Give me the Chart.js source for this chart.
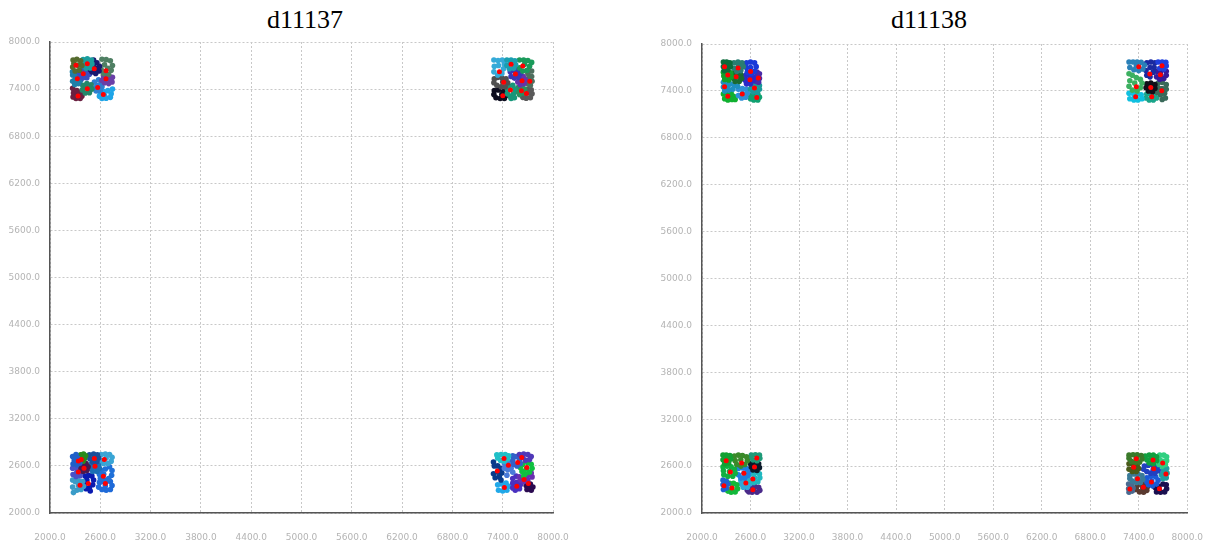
<!DOCTYPE html>
<html>
<head>
<meta charset="utf-8">
<script src="https://cdn.jsdelivr.net/npm/chart.js@4/dist/chart.umd.min.js"></script>
<style>
  html, body { margin: 0; padding: 0; background: #fff; }
  body { width: 1222px; height: 545px; position: relative; overflow: hidden; }
  .title { position: absolute; top: 4px; font-family: "Liberation Serif", "Times New Roman", serif;
           font-size: 26px; line-height: 32px; color: #000; transform: translateX(-50%); white-space: nowrap; }
  canvas { position: absolute; top: 0; }
</style>
</head>
<body>
<div class="title" id="title0" style="left:305px"></div>
<div class="title" id="title1" style="left:929px"></div>
<canvas id="chart0" width="611" height="545" style="left:0"></canvas>
<canvas id="chart1" width="586" height="545" style="left:636px"></canvas>
<script>
// ---- axis ticks and titles ----
const axisTicks = [2000, 2600, 3200, 3800, 4400, 5000, 5600, 6200, 6800, 7400, 8000];
const chartTitles = ['d11137', 'd11138'];

// ---- d11137: cluster centres, colours and member points (flat x,y lists) ----
const d37TLCenters = [[2310,7703],[2445,7724],[2528,7660],[2668,7635],[2397,7597],[2326,7533],[2668,7533],[2445,7405],[2569,7421],[2636,7332],[2334,7311]];
const d37TLColors = ['#556b2f','#1a9e9e','#191970','#4f7f63','#3a4fc0','#1f7fa8','#6a40a8','#23876a','#2f7fd0','#1fa5e8','#6a2040'];
const d37TLPoints = [
  [2275,7770,2320,7780,2365,7760,2380,7700,2350,7640,2300,7630,2270,7680,2285,7725,2335,7705],
  [2395,7775,2445,7785,2495,7770,2500,7720,2480,7670,2430,7665,2395,7700,2420,7745,2465,7735],
  [2520,7770,2560,7735,2590,7690,2585,7630,2545,7600,2500,7620,2480,7650,2515,7700,2550,7665],
  [2620,7780,2670,7775,2720,7760,2745,7700,2730,7640,2700,7590,2640,7600,2610,7650,2650,7710,2690,7665],
  [2350,7610,2400,7650,2450,7640,2470,7590,2440,7545,2390,7540,2360,7570,2410,7600],
  [2270,7580,2310,7575,2345,7560,2365,7510,2340,7470,2295,7460,2270,7500,2300,7530,2320,7495,2268,7620],
  [2640,7560,2700,7570,2745,7550,2740,7490,2700,7470,2650,7480,2620,7510,2670,7530,2720,7525],
  [2390,7450,2440,7470,2490,7455,2500,7400,2470,7355,2420,7350,2385,7390,2430,7420,2460,7410],
  [2530,7490,2580,7520,2610,7480,2620,7430,2600,7380,2550,7375,2520,7410,2560,7450,2590,7410],
  [2600,7350,2640,7370,2690,7380,2730,7340,2720,7295,2670,7285,2620,7280,2590,7310,2650,7320,2745,7400],
  [2280,7350,2320,7380,2365,7360,2380,7310,2360,7280,2310,7280,2275,7300,2330,7330,2270,7410]
];

const d37TRCenters = [[7500,7716],[7639,7694],[7361,7622],[7552,7592],[7631,7507],[7723,7499],[7412,7486],[7492,7388],[7623,7379],[7683,7345],[7401,7316]];
const d37TRColors = ['#1a9fb0','#1a9a5a','#35aad8','#3838b8','#6633aa','#4f6f5f','#505050','#17977a','#2a9060','#5a5a5a','#0d0d1f'];
const d37TRPoints = [
  [7450,7770,7500,7770,7545,7760,7555,7710,7530,7665,7480,7660,7450,7700,7490,7735],
  [7600,7770,7650,7770,7700,7765,7745,7740,7720,7690,7690,7640,7640,7630,7600,7670,7660,7715],
  [7295,7770,7345,7765,7395,7770,7420,7720,7410,7660,7390,7600,7340,7580,7295,7620,7300,7690,7350,7700],
  [7490,7620,7530,7640,7580,7650,7610,7600,7590,7550,7540,7540,7500,7560,7555,7600],
  [7600,7545,7645,7560,7670,7520,7655,7470,7610,7455,7580,7490,7620,7500],
  [7700,7600,7745,7630,7745,7560,7750,7500,7730,7450,7700,7470,7710,7540,7690,7510],
  [7300,7530,7340,7550,7390,7540,7440,7530,7460,7480,7430,7430,7380,7430,7330,7450,7295,7480,7400,7490],
  [7470,7440,7520,7450,7545,7400,7530,7340,7490,7310,7455,7340,7460,7390,7500,7280,7540,7290],
  [7585,7420,7630,7430,7660,7400,7645,7350,7600,7330,7575,7370,7615,7390],
  [7700,7400,7740,7390,7750,7340,7730,7290,7680,7285,7640,7295,7660,7330,7710,7350],
  [7300,7380,7350,7390,7410,7370,7440,7320,7420,7280,7370,7280,7320,7290,7295,7330,7390,7330]
];

const d37BLCenters = [[2338,2664],[2374,2682],[2529,2694],[2648,2682],[2406,2571],[2537,2596],[2338,2523],[2636,2469],[2358,2354],[2457,2375],[2660,2375]];
const d37BLColors = ['#1f5fc8','#2a8a1a','#1b4f9a','#3aa5d5','#4a1a50','#1a6fb5','#4a50c8','#2070d8','#3a9cc8','#0a1ab0','#1f6ad8'];
const d37BLPoints = [
  [2270,2720,2310,2745,2290,2670,2275,2625,2320,2615,2355,2635,2330,2700],
  [2365,2740,2400,2750,2425,2730,2410,2690,2380,2705,2395,2660],
  [2470,2740,2520,2750,2565,2740,2580,2700,2560,2655,2510,2650,2475,2690,2530,2710],
  [2610,2745,2660,2750,2710,2745,2740,2710,2730,2660,2690,2630,2640,2630,2610,2670,2670,2700],
  [2380,2620,2430,2630,2455,2590,2440,2540,2395,2530,2370,2565,2410,2580],
  [2490,2620,2540,2640,2585,2620,2590,2570,2560,2530,2510,2530,2485,2570,2540,2590],
  [2270,2570,2310,2580,2350,2570,2375,2520,2360,2475,2310,2465,2275,2490,2320,2520],
  [2610,2540,2660,2560,2710,2590,2740,2540,2735,2480,2700,2440,2650,2420,2600,2440,2590,2490,2640,2495],
  [2270,2420,2300,2400,2340,2410,2390,2400,2400,2340,2370,2300,2320,2290,2280,2260,2270,2330,2340,2350],
  [2420,2470,2460,2480,2500,2470,2520,2420,2510,2360,2470,2320,2430,2310,2410,2370,2440,2420,2480,2280],
  [2590,2390,2620,2400,2670,2400,2720,2400,2740,2350,2720,2300,2670,2290,2620,2300,2580,2330,2660,2345]
];

const d37BRCenters = [[7416,2694],[7627,2707],[7579,2643],[7468,2609],[7687,2580],[7336,2536],[7655,2426],[7706,2375],[7568,2341],[7420,2324]];
const d37BRColors = ['#20c0c8','#5038b8','#3060c8','#4a7ad8','#10c040','#0a3a8a','#6a30b0','#2a0a50','#4a30c0','#20a8e8'];
const d37BRPoints = [
  [7330,2740,7380,2745,7430,2745,7470,2730,7460,2690,7420,2660,7375,2670,7340,2700],
  [7600,2745,7650,2750,7700,2745,7740,2720,7720,2680,7670,2670,7640,2710],
  [7520,2730,7560,2720,7600,2680,7610,2630,7570,2600,7530,2620,7520,2670],
  [7420,2630,7470,2650,7500,2620,7500,2570,7460,2550,7420,2570,7470,2600,7520,2520,7450,2480],
  [7640,2620,7700,2640,7740,2620,7750,2570,7720,2520,7670,2500,7630,2530,7610,2580,7680,2560,7650,2470],
  [7290,2650,7300,2600,7340,2600,7380,2570,7390,2510,7360,2460,7310,2450,7290,2500,7340,2520,7380,2420],
  [7600,2460,7700,2480,7750,2460,7740,2510,7700,2420,7650,2400,7610,2420,7660,2440],
  [7680,2350,7730,2370,7760,2330,7740,2290,7690,2300,7710,2340],
  [7520,2380,7570,2390,7610,2360,7600,2310,7550,2290,7520,2320,7570,2340,7520,2440,7560,2470],
  [7340,2360,7390,2370,7440,2380,7470,2340,7450,2290,7400,2280,7350,2290,7420,2320]
];

// ---- d11138 ----
const d38TLCenters = [[2279,7709],[2446,7692],[2601,7649],[2319,7602],[2422,7581],[2593,7543],[2697,7564],[2279,7453],[2649,7436],[2498,7359],[2319,7330],[2677,7317]];
const d38TLColors = ['#0b6b3b','#2a7d72','#1a3ad8','#12a02a','#1a6a30','#2a2ac8','#4a2aa8','#1f8fc0','#1a9a9a','#2f90d8','#10b030','#10a070'];
const d38TLPoints = [
  [2265,7770,2305,7770,2345,7760,2350,7710,2320,7670,2275,7660,2300,7720,2265,7710],
  [2395,7760,2445,7770,2495,7760,2510,7710,2480,7660,2430,7650,2395,7690,2450,7720],
  [2550,7760,2600,7770,2650,7760,2670,7710,2650,7650,2610,7620,2560,7640,2550,7700,2600,7700],
  [2265,7640,2310,7650,2355,7630,2365,7580,2330,7540,2280,7545,2270,7590,2320,7600],
  [2395,7630,2440,7630,2480,7610,2490,7560,2460,7520,2410,7520,2390,7560,2430,7580],
  [2540,7600,2590,7600,2630,7580,2630,7530,2600,7490,2550,7490,2530,7540,2580,7545],
  [2680,7640,2710,7620,2710,7560,2700,7510,2670,7520,2665,7580],
  [2265,7510,2310,7500,2350,7490,2400,7470,2380,7420,2330,7410,2280,7400,2265,7450,2320,7455,2440,7460],
  [2610,7470,2660,7480,2710,7470,2710,7420,2680,7380,2630,7390,2600,7420,2650,7430],
  [2450,7420,2500,7430,2550,7420,2560,7370,2540,7320,2490,7310,2450,7340,2500,7370],
  [2265,7360,2310,7375,2360,7370,2390,7330,2370,7290,2320,7285,2280,7300,2330,7330,2410,7290],
  [2600,7340,2640,7350,2690,7360,2710,7320,2690,7285,2640,7285,2600,7300,2660,7320]
];

const d38TRCenters = [[7401,7709],[7688,7722],[7537,7615],[7668,7607],[7370,7453],[7549,7445],[7684,7402],[7362,7325],[7561,7325]];
const d38TRColors = ['#2a80b8','#2040e0','#1a2aa0','#3a1a9a','#3cb060','#101018','#3a6a5a','#10c0e0','#1aa58a'];
const d38TRPoints = [
  [7280,7770,7330,7770,7380,7770,7430,7765,7470,7730,7450,7680,7400,7660,7340,7670,7290,7700,7370,7720],
  [7640,7770,7690,7770,7735,7765,7740,7720,7710,7680,7660,7690,7700,7740],
  [7500,7760,7550,7770,7600,7760,7590,7700,7580,7640,7540,7580,7500,7600,7490,7660,7540,7700],
  [7630,7650,7680,7660,7740,7650,7740,7600,7710,7560,7660,7550,7620,7580,7670,7610],
  [7280,7620,7320,7600,7370,7570,7420,7550,7440,7500,7420,7440,7380,7400,7320,7410,7280,7460,7290,7530,7350,7500],
  [7500,7490,7550,7500,7600,7480,7600,7430,7570,7390,7520,7400,7490,7440,7550,7450],
  [7640,7500,7690,7510,7740,7480,7740,7420,7720,7370,7670,7350,7630,7380,7640,7440,7690,7430,7690,7290,7730,7310],
  [7280,7370,7330,7370,7380,7360,7430,7350,7440,7300,7390,7285,7340,7285,7290,7300,7350,7320],
  [7500,7360,7550,7370,7600,7350,7620,7310,7580,7285,7530,7285,7490,7310,7560,7330]
];

const d38BLCenters = [[2299,2669],[2490,2639],[2677,2703],[2649,2588],[2351,2524],[2518,2507],[2629,2435],[2271,2349],[2370,2319],[2542,2383],[2629,2298]];
const d38BLColors = ['#12a032','#3a8a2a','#1e9a78','#0a1a2a','#10b040','#1f80e0','#20b8c0','#2060d0','#12b83a','#30a8d8','#4a2a8a'];
const d38BLPoints = [
  [2260,2740,2300,2740,2345,2735,2355,2690,2330,2640,2280,2630,2260,2680,2305,2690],
  [2400,2730,2450,2740,2500,2735,2550,2720,2560,2670,2530,2620,2480,2600,2430,2620,2410,2670,2480,2680],
  [2610,2740,2660,2745,2710,2740,2715,2700,2680,2670,2630,2680,2600,2710],
  [2600,2630,2650,2640,2700,2630,2710,2580,2680,2545,2630,2550,2610,2590,2660,2600],
  [2260,2590,2310,2600,2360,2590,2400,2560,2410,2510,2380,2470,2320,2470,2270,2490,2265,2540,2340,2530],
  [2450,2570,2500,2580,2550,2570,2580,2530,2570,2480,2530,2450,2480,2450,2450,2490,2520,2510],
  [2600,2500,2650,2510,2710,2500,2715,2450,2690,2400,2640,2390,2600,2410,2650,2450],
  [2260,2420,2300,2410,2320,2370,2300,2320,2265,2300,2260,2360],
  [2340,2380,2390,2380,2430,2360,2440,2310,2410,2270,2360,2265,2320,2280,2370,2320],
  [2480,2420,2530,2430,2580,2420,2590,2370,2560,2330,2510,2330,2480,2370,2540,2385],
  [2560,2290,2600,2330,2650,2340,2700,2330,2715,2290,2680,2265,2620,2265,2580,2270,2640,2300]
];

const d38BRCenters = [[7370,2695],[7577,2678],[7696,2639],[7338,2584],[7585,2567],[7736,2498],[7385,2439],[7557,2396],[7290,2307],[7457,2328],[7656,2311]];
const d38BRColors = ['#3a7a2a','#10a040','#30d080','#4a5a1a','#2040c0','#20a0a0','#3a7a98','#1a5ad8','#4a6a90','#5a3a30','#1a1050'];
const d38BRPoints = [
  [7280,2740,7330,2745,7380,2745,7430,2735,7440,2690,7410,2650,7360,2650,7310,2660,7280,2700,7370,2700],
  [7480,2730,7530,2740,7580,2740,7620,2720,7620,2670,7580,2630,7530,2640,7500,2680,7560,2690],
  [7660,2740,7710,2740,7745,2720,7745,2670,7730,2620,7690,2600,7650,2620,7660,2680,7700,2660],
  [7280,2630,7330,2620,7380,2610,7400,2570,7370,2530,7320,2530,7280,2560,7340,2580],
  [7470,2600,7520,2610,7580,2610,7630,2590,7640,2540,7600,2510,7550,2510,7500,2530,7460,2560,7580,2560],
  [7700,2560,7745,2570,7750,2510,7740,2450,7700,2440,7680,2490,7710,2520],
  [7290,2480,7340,2500,7390,2500,7440,2480,7450,2430,7420,2390,7370,2390,7320,2410,7290,2440,7380,2440],
  [7500,2450,7550,2470,7610,2460,7640,2420,7620,2370,7570,2350,7520,2360,7500,2400,7560,2410],
  [7275,2370,7310,2360,7330,2320,7320,2280,7280,2265,7275,2310],
  [7380,2350,7420,2370,7470,2370,7510,2340,7500,2290,7460,2265,7410,2270,7370,2300,7450,2320],
  [7600,2330,7650,2340,7700,2370,7740,2360,7745,2310,7720,2270,7670,2265,7620,2270,7650,2300]
];

// ---- building datasets ----
function toPoints(flat) {
  const out = [];
  for (let i = 0; i < flat.length; i += 2) out.push({ x: flat[i], y: flat[i + 1] });
  return out;
}

function buildDatasets(groups) {
  const sets = [];
  const centres = [];
  groups.forEach(g => {
    g.points.forEach((flat, i) => {
      sets.push({
        data: toPoints(flat),
        backgroundColor: g.colors[i],
        borderColor: g.colors[i],
        pointRadius: 2.8,
        pointBorderWidth: 0,
        pointHoverRadius: 2.8,
        order: 1
      });
    });
    g.centers.forEach(c => centres.push({ x: c[0], y: c[1] }));
  });
  // centroids on top
  sets.unshift({
    data: centres,
    backgroundColor: '#ff0000',
    borderColor: '#ff0000',
    pointRadius: 2.5,
    pointBorderWidth: 0,
    pointHoverRadius: 2.5,
    order: 0
  });
  return sets;
}

function axisOptions(isX, fitSize) {
  return {
    type: 'linear',
    min: 2000,
    max: 8000,
    afterBuildTicks: s => { s.ticks = axisTicks.map(v => ({ value: v })); },
    afterFit: s => { if (isX) s.height = fitSize; else s.width = fitSize; },
    ticks: {
      padding: isX ? 19 : 10,
      color: '#b4b4b4',
      font: { family: 'DejaVu Sans', size: 9 },
      maxRotation: 0,
      autoSkip: false,
      callback: v => Number(v).toFixed(1)
    },
    grid: { color: '#c8c8c8', lineWidth: 1, drawTicks: false },
    border: { display: true, color: '#555555', width: 1.5, dash: [2, 2] }
  };
}

function makeChart(id, groups, yAxisWidth, rightPad, topPad, xAxisHeight) {
  return new Chart(document.getElementById(id), {
    type: 'scatter',
    data: { datasets: buildDatasets(groups) },
    options: {
      responsive: false,
      animation: false,
      devicePixelRatio: 1,
      layout: { padding: { left: 0, right: rightPad, top: topPad, bottom: 0 } },
      plugins: { legend: { display: false }, tooltip: { enabled: false }, title: { display: false } },
      scales: {
        x: axisOptions(true, xAxisHeight),
        y: axisOptions(false, yAxisWidth)
      }
    }
  });
}

document.getElementById('title0').textContent = chartTitles[0];
document.getElementById('title1').textContent = chartTitles[1];

makeChart('chart0', [
  { centers: d37TLCenters, colors: d37TLColors, points: d37TLPoints },
  { centers: d37TRCenters, colors: d37TRColors, points: d37TRPoints },
  { centers: d37BLCenters, colors: d37BLColors, points: d37BLPoints },
  { centers: d37BRCenters, colors: d37BRColors, points: d37BRPoints }
], 50, 58, 42, 32);

makeChart('chart1', [
  { centers: d38TLCenters, colors: d38TLColors, points: d38TLPoints },
  { centers: d38TRCenters, colors: d38TRColors, points: d38TRPoints },
  { centers: d38BLCenters, colors: d38BLColors, points: d38BLPoints },
  { centers: d38BRCenters, colors: d38BRColors, points: d38BRPoints }
], 66, 18, 44, 32);
</script>
</body>
</html>
